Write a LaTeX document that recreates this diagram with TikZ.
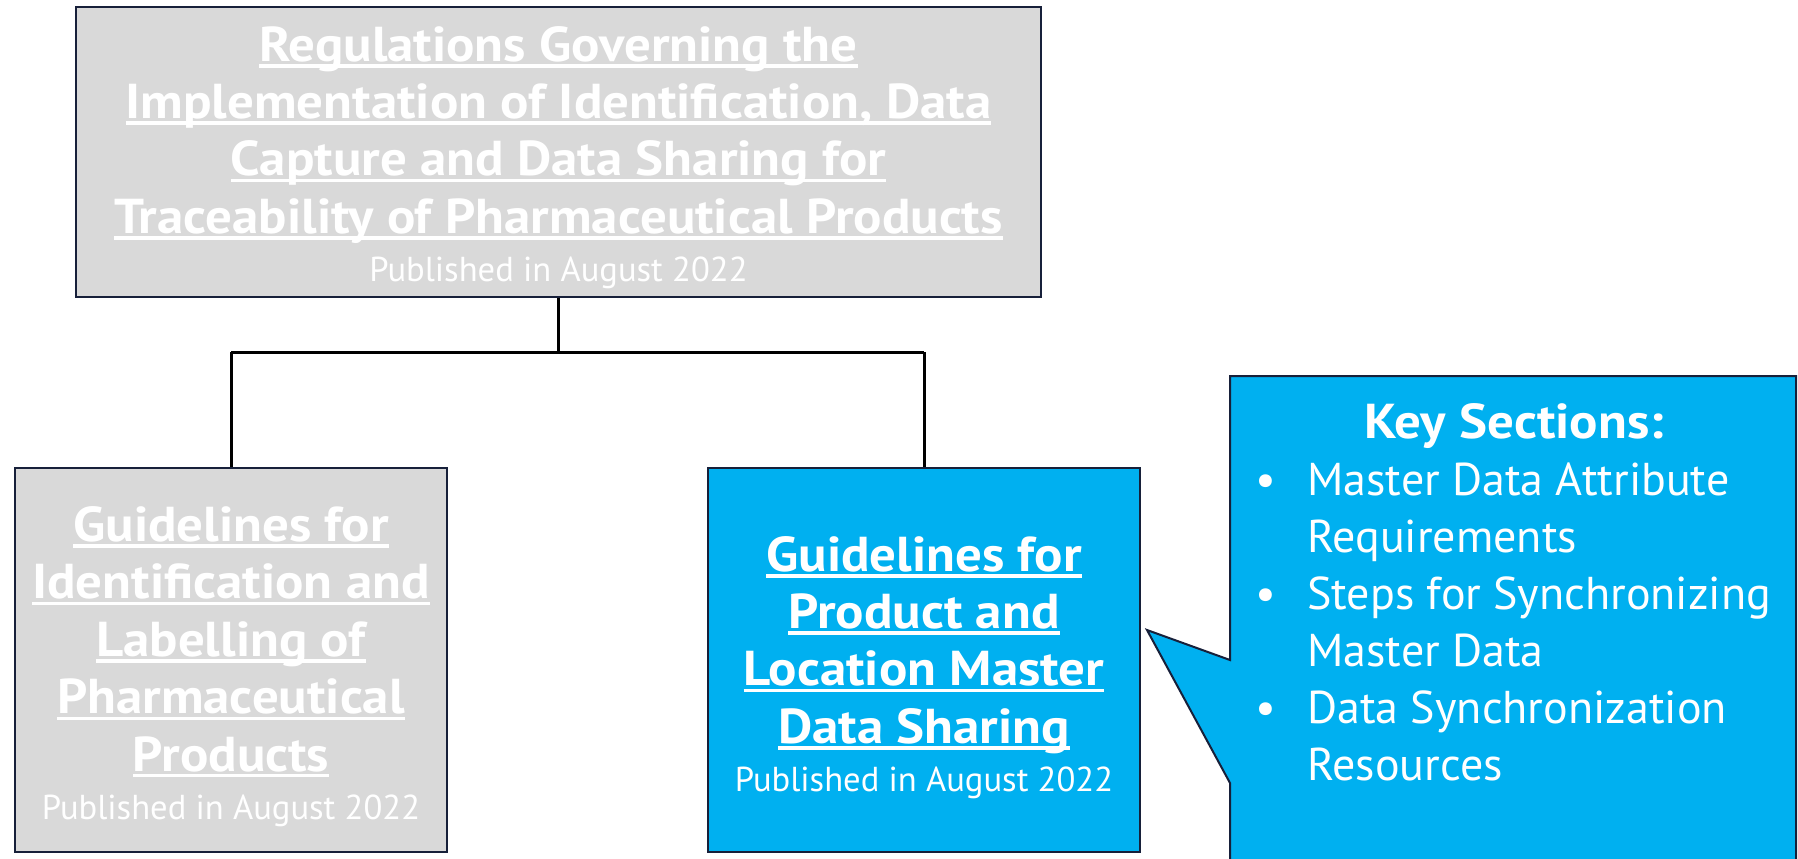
\documentclass[tikz,border=0pt]{standalone}
\usepackage{fontspec}
\setmainfont{PT Sans}
\newfontfamily\widebold{PT Sans}[FakeStretch=1.08]
\definecolor{gbox}{HTML}{D9D9D9}
\definecolor{bbox}{HTML}{00B0F0}
\definecolor{navy}{HTML}{17203A}
\newcommand{\ulx}[1]{\sbox0{#1}\rlap{\rule[-0.13em]{\wd0}{0.07em}}\usebox0}
\newcommand{\pub}{\fontsize{17.3}{20}\selectfont\rmfamily\mdseries Published in August 2022}
\tikzset{
  box/.style={draw=navy, line width=1pt},
  title/.style={text=white, align=center, inner sep=0pt,
    font=\widebold\fontsize{24.5}{28.7}\selectfont\bfseries},
  conn/.style={draw=black, line width=1.5pt},
  callout/.style={draw=navy, line width=1pt, fill=bbox},
  ctext/.style={text=white, inner sep=0pt, font=\fontsize{23}{28.5}\selectfont},
}
\begin{document}
\begin{tikzpicture}[x=0.5pt,y=-0.5pt]
\useasboundingbox (0,0) rectangle (1798,858);
\clip (0,0) rectangle (1798,858);
% boxes
\node[box, fill=gbox, minimum width=482.5pt, minimum height=145pt] (top) at (558.5,152) {};
\node[box, fill=gbox, minimum width=216pt, minimum height=192pt] (left) at (231,660) {};
\node[box, fill=bbox, minimum width=216pt, minimum height=192pt] (mid) at (924,660) {};
\node[title] (toptext) at ([yshift=-2.7pt]top.center)
  {\ulx{Regulations Governing the}\\ \ulx{Implementation of Identification, Data}\\
   \ulx{Capture and Data Sharing for}\\ \ulx{Traceability of Pharmaceutical Products}\\[-4.7pt] \pub};
\node[title] (lefttext) at ([yshift=-3.2pt]left.center)
  {\ulx{Guidelines for}\\ \ulx{Identification and}\\ \ulx{Labelling of}\\ \ulx{Pharmaceutical}\\ \ulx{Products}\\[-4.7pt] \pub};
\node[title] (midtext) at ([yshift=-3.7pt]mid.center)
  {\ulx{Guidelines for}\\ \ulx{Product and}\\ \ulx{Location Master}\\ \ulx{Data Sharing}\\[-4.7pt] \pub};
% connectors
\coordinate (j) at (558.5,352);
\draw[conn] (top.south) -- (top.south |- j);
\draw[conn] (left.north |- j) -- (mid.north |- j);
\draw[conn] (left.north |- j) -- (left.north);
\draw[conn] (mid.north |- j) -- (mid.north);
% callout
\coordinate (tip) at (1147,630);
\draw[callout] (1230,376) -- (1796,376) -- (1796,880) -- (1230,880) -- (1230,783) -- (tip) -- (1230,660) -- cycle;
\node[ctext, font=\widebold\fontsize{24.5}{28.5}\selectfont\bfseries] (keyt) at (1514,426) {Key Sections:};
\node[ctext, align=left, anchor=north west] (list) at (1255,462)
  {\makebox[26pt][l]{•}Master Data Attribute\\
   \hspace*{26pt}Requirements\\
   \makebox[26pt][l]{•}Steps for Synchronizing\\
   \hspace*{26pt}Master Data\\
   \makebox[26pt][l]{•}Data Synchronization\\
   \hspace*{26pt}Resources};
\end{tikzpicture}
\end{document}
